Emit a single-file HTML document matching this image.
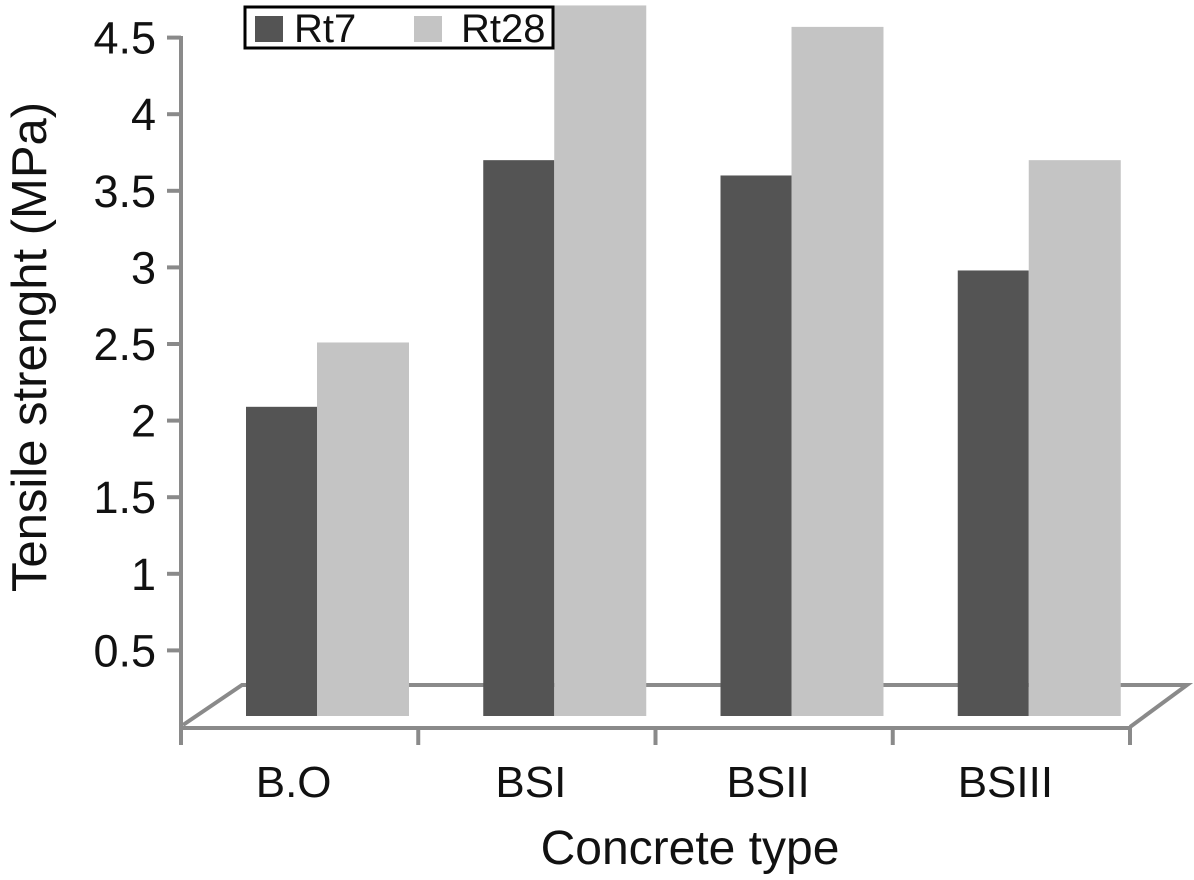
<!DOCTYPE html>
<html><head><meta charset="utf-8"><style>
body{margin:0;background:#fff;}
svg text{font-family:"Liberation Sans",Arial,sans-serif;fill:#111;}
</style></head><body>
<svg id="chart" width="1194" height="875" viewBox="0 0 1194 875" xmlns="http://www.w3.org/2000/svg">
<g id="floor"></g>
<g id="bars"></g>
<g id="axes"></g>
<text transform="translate(46,347) rotate(-90)" text-anchor="middle" font-size="49">Tensile strenght (MPa)</text>
<text x="690" y="864" text-anchor="middle" font-size="48">Concrete type</text>
<g>
<rect x="245" y="7" width="308" height="41" fill="#fff" stroke="#000" stroke-width="3"/>
<rect x="255" y="16" width="28" height="26" fill="#545454"/>
<text x="294" y="42" font-size="40">Rt7</text>
<rect x="414" y="16" width="28" height="26" fill="#c4c4c4"/>
<text x="461" y="42" font-size="40">Rt28</text>
</g>
</svg>
<script>
const categories=["B.O","BSI","BSII","BSIII"];
const rt7=[2.09,3.70,3.60,2.98];
const rt28=[2.51,4.71,4.57,3.70];
const yTicks=[0.5,1,1.5,2,2.5,3,3.5,4,4.5];
const yTickLabels=["0.5","1","1.5","2","2.5","3","3.5","4","4.5"];
const NS="http://www.w3.org/2000/svg";
function y(v){return 727-153.2*v;}
const x0=181,band=237.25;
function xc(i){return x0+band*i;}
function mk(tag,attrs,parent){const e=document.createElementNS(NS,tag);for(const k in attrs)e.setAttribute(k,attrs[k]);parent.appendChild(e);return e;}
const floor=document.getElementById('floor'),bars=document.getElementById('bars'),axes=document.getElementById('axes');
const g="#8a8a8a";
mk('polyline',{points:"183,725 242,685 1187,685 1130,727",fill:"none",stroke:g,"stroke-width":4},floor);
const base=716;
for(let i=0;i<categories.length;i++){
  const r1=mk('rect',{x:xc(i)+65,y:y(rt7[i]),width:71,height:base-y(rt7[i]),fill:"#545454"},bars);
  
  
  const r2=mk('rect',{x:xc(i)+136,y:y(rt28[i]),width:92,height:base-y(rt28[i]),fill:"#c4c4c4"},bars);
  
  
  const t=mk('text',{x:xc(i)+band/2-6,y:797,"text-anchor":"middle","font-size":"44"},axes);
  t.textContent=categories[i];
  
  
}
mk('line',{x1:181,y1:36,x2:181,y2:745,stroke:g,"stroke-width":4},axes);
mk('line',{x1:181,y1:728,x2:1132,y2:728,stroke:g,"stroke-width":4},axes);
for(let i=0;i<=categories.length;i++){
  mk('line',{x1:xc(i),y1:727,x2:xc(i),y2:745,stroke:g,"stroke-width":4},axes);
}
for(let k=0;k<yTicks.length;k++){
  const yy=y(yTicks[k]);
  mk('line',{x1:167,y1:yy,x2:181,y2:yy,stroke:g,"stroke-width":4},axes);
  const t=mk('text',{x:156,y:yy+16,"text-anchor":"end","font-size":"45"},axes);
  t.textContent=yTickLabels[k];
  
  
}
</script>
</body></html>
